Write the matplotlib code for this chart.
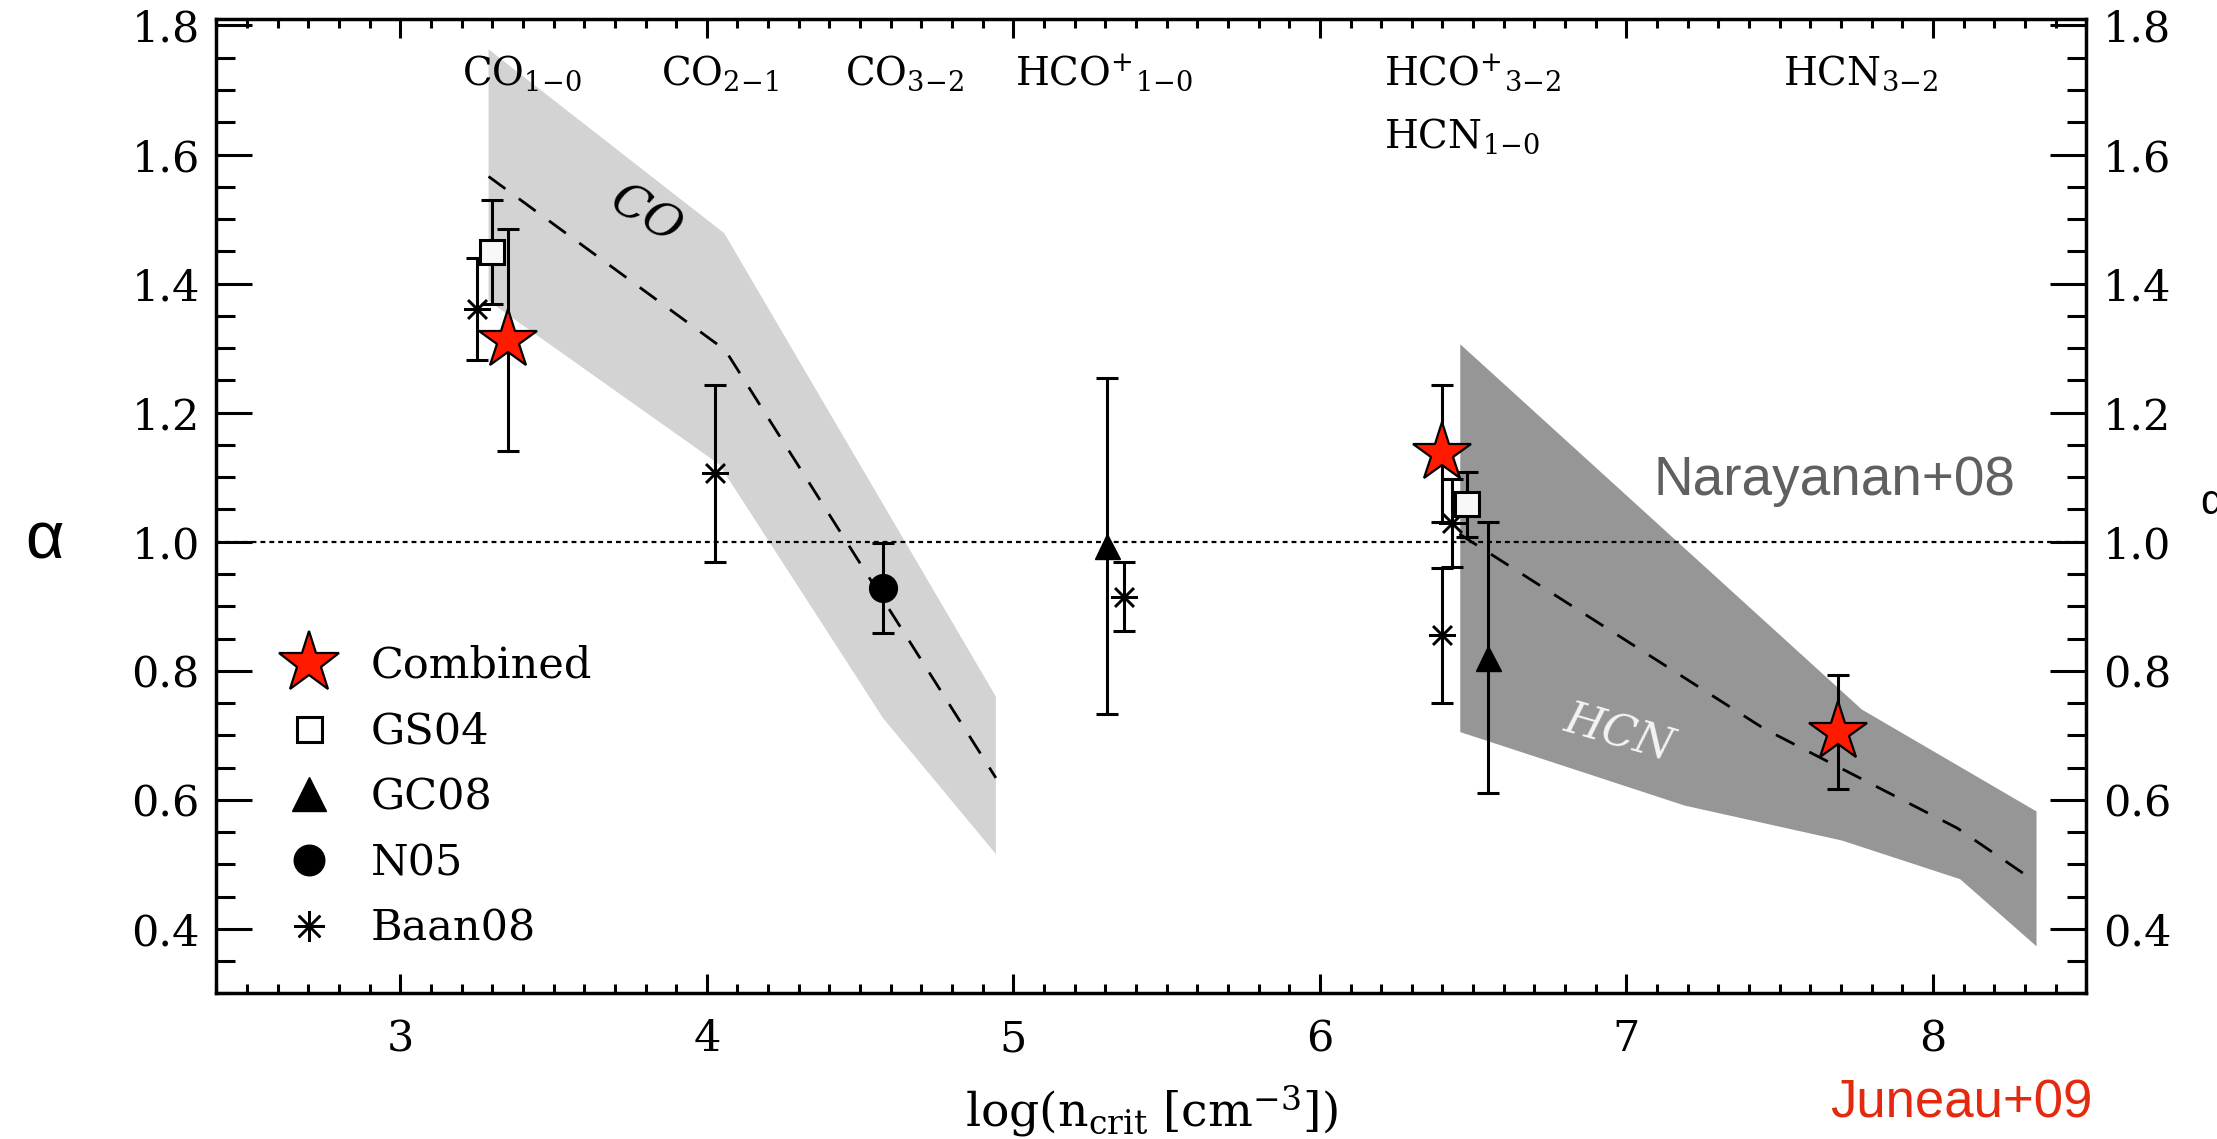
import matplotlib
matplotlib.use('Agg')
import matplotlib.pyplot as plt
from matplotlib.lines import Line2D
from matplotlib.ticker import MultipleLocator

plt.rcParams['font.family'] = ['DejaVu Serif']
plt.rcParams['mathtext.fontset'] = 'dejavuserif'

# ---------------- data ----------------
x_range = (2.4, 8.5)
y_range = (0.3, 1.81)
x_ticks = [3, 4, 5, 6, 7, 8]
y_ticks = [0.4, 0.6, 0.8, 1.0, 1.2, 1.4, 1.6, 1.8]

# model bands (Narayanan+08)
co_upper_x = [3.288, 4.057, 4.943]
co_upper_y = [1.763, 1.478, 0.760]
co_lower_x = [3.288, 4.04, 4.576, 4.943]
co_lower_y = [1.373, 1.12, 0.726, 0.516]
co_model_x = [3.288, 4.06, 4.943]
co_model_y = [1.566, 1.297, 0.634]

hcn_upper_x = [6.458, 7.768, 8.338]
hcn_upper_y = [1.306, 0.740, 0.582]
hcn_lower_x = [6.458, 7.191, 7.703, 8.089, 8.338]
hcn_lower_y = [0.705, 0.591, 0.537, 0.477, 0.373]
hcn_model_x = [6.455, 7.45, 8.08, 8.338]
hcn_model_y = [1.012, 0.71, 0.556, 0.472]

# observations
combined_x = [3.35, 6.40, 7.69]
combined_y = [1.312, 1.137, 0.705]
combined_err = [0.172, 0.106, 0.088]

gs04_x = [3.30, 6.48]
gs04_y = [1.449, 1.058]
gs04_err = [0.08, 0.05]

gc08_x = [5.306, 6.55]
gc08_y = [0.993, 0.82]
gc08_err = [0.26, 0.21]

n05_x = [4.576]
n05_y = [0.928]
n05_err = [0.07]

baan_x = [3.25, 4.028, 5.36, 6.40, 6.43]
baan_y = [1.36, 1.106, 0.915, 0.855, 1.029]
baan_err = [0.079, 0.137, 0.053, 0.105, 0.068]

# transition labels
line_names = [r'CO$_{1{-}0}$', r'CO$_{2{-}1}$', r'CO$_{3{-}2}$', r'HCO$^{+}$$_{1{-}0}$',
              r'HCO$^{+}$$_{3{-}2}$', r'HCN$_{1{-}0}$', r'HCN$_{3{-}2}$']
line_label_x = [3.20, 3.851, 4.451, 5.006, 6.209, 6.209, 7.51]
line_label_y = [1.708, 1.708, 1.708, 1.708, 1.708, 1.61, 1.708]

legend_labels = ['Combined', 'GS04', 'GC08', 'N05', 'Baan08']

# ---------------- figure ----------------
W, H = 2217, 1139
fig = plt.figure(figsize=(W / 100, H / 100), dpi=100)
ax = fig.add_axes([0.0976, 0.1278, 0.941 - 0.0976, 0.9833 - 0.1278])
ax.set_xlim(*x_range)
ax.set_ylim(*y_range)

# bands
ax.fill(co_upper_x + co_lower_x[::-1], co_upper_y + co_lower_y[::-1],
        color='#d3d3d3', lw=0, zorder=1)
ax.fill(hcn_upper_x + hcn_lower_x[::-1], hcn_upper_y + hcn_lower_y[::-1],
        color='#969696', lw=0, zorder=1)

# alpha = 1 reference
ax.axhline(1.0, color='k', lw=1.6, ls=(0, (2.2, 1.8)), zorder=2)

# model lines
ax.plot(co_model_x, co_model_y, color='k', lw=2.0, dashes=(7.5, 6), zorder=3)
ax.plot(hcn_model_x, hcn_model_y, color='k', lw=2.0, dashes=(7.5, 6), zorder=3)

# band names
ax.text(3.80, 1.505, 'CO', fontsize=34, style='italic', rotation=-30,
        ha='center', va='center', zorder=2)
ax.text(6.976, 0.702, 'HCN', fontsize=32, style='italic', rotation=-16,
        ha='center', va='center', color='#f4f4f4', zorder=2)

eb = dict(fmt='none', ecolor='k', elinewidth=2.2, capsize=8, capthick=2.2, zorder=4)
ax.errorbar(baan_x, baan_y, yerr=baan_err, **eb)
ax.errorbar(gs04_x, gs04_y, yerr=gs04_err, **eb)
ax.errorbar(gc08_x, gc08_y, yerr=gc08_err, **eb)
ax.errorbar(n05_x, n05_y, yerr=n05_err, **eb)
ax.errorbar(combined_x, combined_y, yerr=combined_err, **eb)

ast = (8, 2, 0)
ax.plot(baan_x, baan_y, ls='none', marker=ast, ms=19, mec='k', mew=1.8, zorder=5)
ax.plot(gs04_x, gs04_y, ls='none', marker='s', ms=17, mfc='#f8f8f8', mec='k', mew=2.2, zorder=5)
ax.plot(gc08_x, gc08_y, ls='none', marker='^', ms=18, mfc='k', mec='k', zorder=5)
ax.plot(n05_x, n05_y, ls='none', marker='o', ms=20, mfc='k', mec='k', zorder=5)
ax.plot(combined_x, combined_y, ls='none', marker='*', ms=44, mfc='#ff1a00', mec='k',
        mew=1.6, zorder=6)

# transition labels
for name, lx, ly in zip(line_names, line_label_x, line_label_y):
    ax.text(lx, ly, name, fontsize=28, ha='left', va='baseline', zorder=7)

ax.text(7.087, 1.0717, 'Narayanan+08', fontsize=39.5, color='#606060',
        family=['Liberation Sans', 'DejaVu Sans'], ha='left', va='baseline', zorder=7)

# legend
handles = [
    Line2D([], [], ls='none', marker='*', ms=46, mfc='#ff1a00', mec='k', mew=1.6),
    Line2D([], [], ls='none', marker='s', ms=18, mfc='white', mec='k', mew=2.2),
    Line2D([], [], ls='none', marker='^', ms=24, mfc='k', mec='k'),
    Line2D([], [], ls='none', marker='o', ms=22, mfc='k', mec='k'),
    Line2D([], [], ls='none', marker=ast, ms=22, mec='k', mew=1.8),
]
leg = ax.legend(handles, legend_labels, loc='upper left',
                bbox_to_anchor=(287 / W, 1 - 645 / H), bbox_transform=fig.transFigure,
                frameon=False, fontsize=31, handlelength=1.0, handletextpad=0.95,
                labelspacing=0.55, borderpad=0, borderaxespad=0, numpoints=1)

# axes styling
for s in ax.spines.values():
    s.set_linewidth(2.5)
ax.set_xticks(x_ticks)
ax.set_yticks(y_ticks)
ax.set_yticklabels([f'{v:.1f}' for v in y_ticks])
ax.xaxis.set_minor_locator(MultipleLocator(0.1))
ax.yaxis.set_minor_locator(MultipleLocator(0.05))
ax.tick_params(which='both', direction='in', top=True, right=True,
               labelright=True, width=2.2, labelsize=31)
ax.tick_params(axis='y', which='major', length=26, pad=12)
ax.tick_params(axis='y', which='minor', length=14)
ax.tick_params(axis='x', which='major', length=14, pad=18)
ax.tick_params(axis='x', which='minor', length=6.5)

# axis titles and credits
fig.text(0.5193, 0.0105, r'log(n$_{\rm crit}$ [cm$^{-3}$])', fontsize=34,
         ha='center', va='baseline')
fig.text(0.0199, 0.525, 'α', fontsize=48, family=['Liberation Sans', 'DejaVu Sans'],
         ha='center', va='center')
fig.text(0.9925, 0.5584, 'α', fontsize=30, family=['Liberation Sans', 'DejaVu Sans'],
         ha='left', va='center')
fig.text(0.944, 0.0193, 'Juneau+09', fontsize=38, color='#e5290f',
         family=['Liberation Sans Narrow', 'Liberation Sans', 'DejaVu Sans'],
         ha='right', va='baseline')

fig.savefig('out.png', dpi=100)
